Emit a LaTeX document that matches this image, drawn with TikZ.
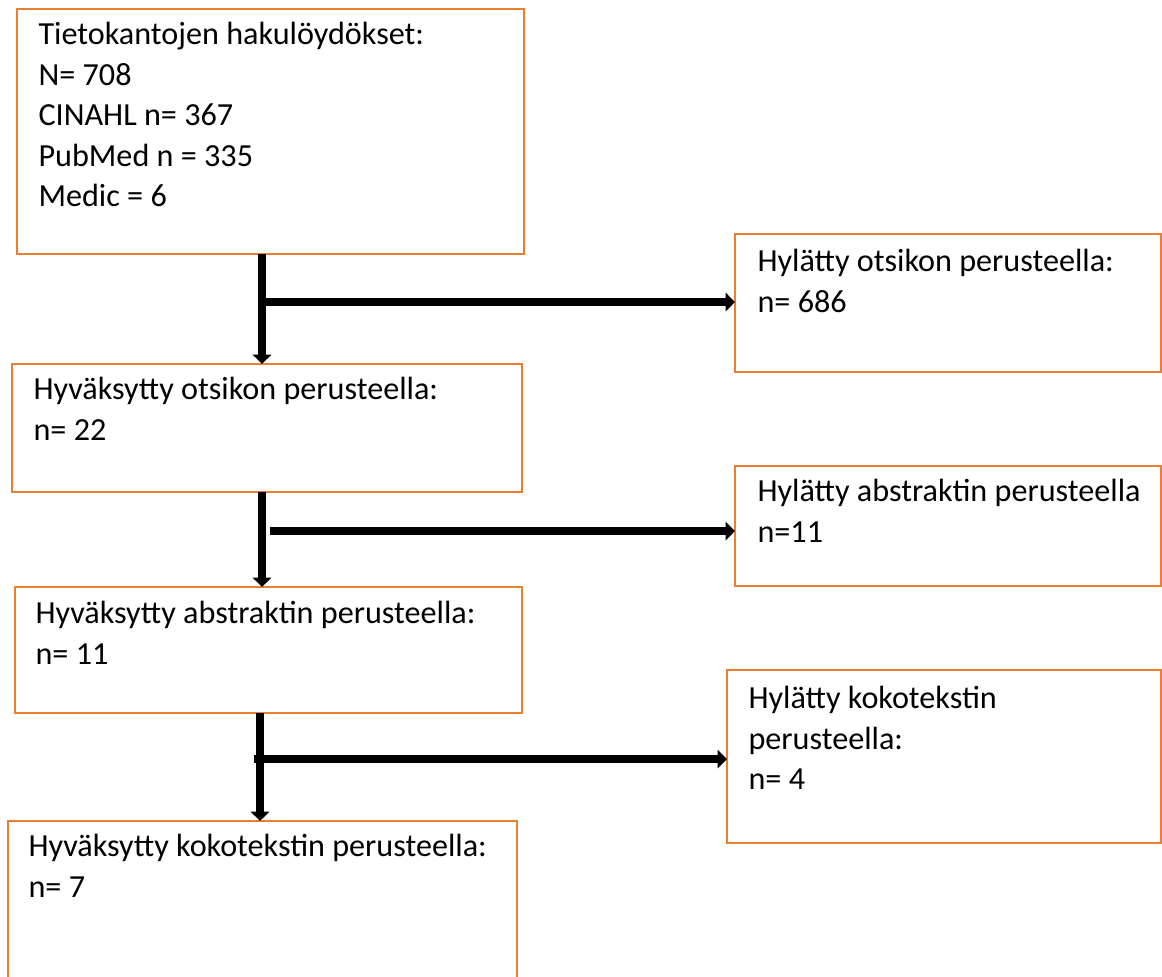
\documentclass[tikz,border=0pt]{standalone}
\usepackage{fontspec}
\setmainfont{Carlito}
\usetikzlibrary{arrows.meta,positioning}
\definecolor{boxorange}{HTML}{ED7D31}
\newcommand\px{0.3543pt}

\begin{document}
\begin{tikzpicture}[x=0.3543pt,y=-0.3543pt]
\tikzstyle{box}=[rectangle,draw=boxorange,line width=0.6pt,
anchor=north west,inner sep=0pt,outer sep=0pt]
\tikzstyle{txt}=[anchor=north west,align=left,inner sep=0pt,
font=\fontsize{11.4}{14.35}\selectfont,
execute at begin node={\rule{0pt}{9.3pt}}]
\tikzstyle{flow}=[line width=2.9pt,-{Triangle[width=6.4pt,length=3.3pt]}]

\useasboundingbox (0,0) rectangle (1162,976);
\clip (0,0) rectangle (1162,976);

\node[box,minimum width=507*\px,minimum height=245*\px] at (17,9) (src) {};
\node[box,minimum width=426*\px,minimum height=138*\px] at (735,234) (rej1) {};
\node[box,minimum width=510*\px,minimum height=128*\px] at (12,364) (acc1) {};
\node[box,minimum width=426*\px,minimum height=120*\px] at (735,466) (rej2) {};
\node[box,minimum width=507*\px,minimum height=126*\px] at (15,587) (acc2) {};
\node[box,minimum width=434*\px,minimum height=173*\px] at (727,670) (rej3) {};
\node[box,minimum width=509*\px,minimum height=200*\px] at (8,821) (acc3) {};

\node[txt] at ([shift={(21,13)}]src.north west) (srct) {Tietokantojen hakulöydökset:\\N= 708\\CINAHL n= 367\\PubMed n = 335\\Medic = 6};
\node[txt] at ([shift={(22,15)}]rej1.north west) (rej1t) {Hylätty otsikon perusteella:\\n= 686};
\node[txt] at ([shift={(21,13)}]acc1.north west) (acc1t) {Hyväksytty otsikon perusteella:\\n= 22};
\node[txt] at ([shift={(22,13)}]rej2.north west) (rej2t) {Hylätty abstraktin perusteella\\n=11};
\node[txt] at ([shift={(20,14)}]acc2.north west) (acc2t) {Hyväksytty abstraktin perusteella:\\n= 11};
\node[txt] at ([shift={(21,16)}]rej3.north west) (rej3t) {Hylätty kokotekstin\\perusteella:\\n= 4};
\node[txt] at ([shift={(20,13)}]acc3.north west) (acc3t) {Hyväksytty kokotekstin perusteella:\\n= 7};

\coordinate (j1) at (262,302);
\coordinate (j2) at (270,531);
\coordinate (k2) at (262,531);
\coordinate (j3) at (254,759);
\coordinate (k3) at (260,759);

\draw[flow] (src.south -| j1) -- (acc1.north -| j1);
\draw[flow] (j1) -- (rej1.west |- j1);
\draw[flow] (acc1.south -| k2) -- (acc2.north -| k2);
\draw[flow] (j2) -- (rej2.west |- j2);
\draw[flow] (acc2.south -| k3) -- (acc3.north -| k3);
\draw[flow] (j3) -- (rej3.west |- j3);

\end{tikzpicture}
\end{document}
